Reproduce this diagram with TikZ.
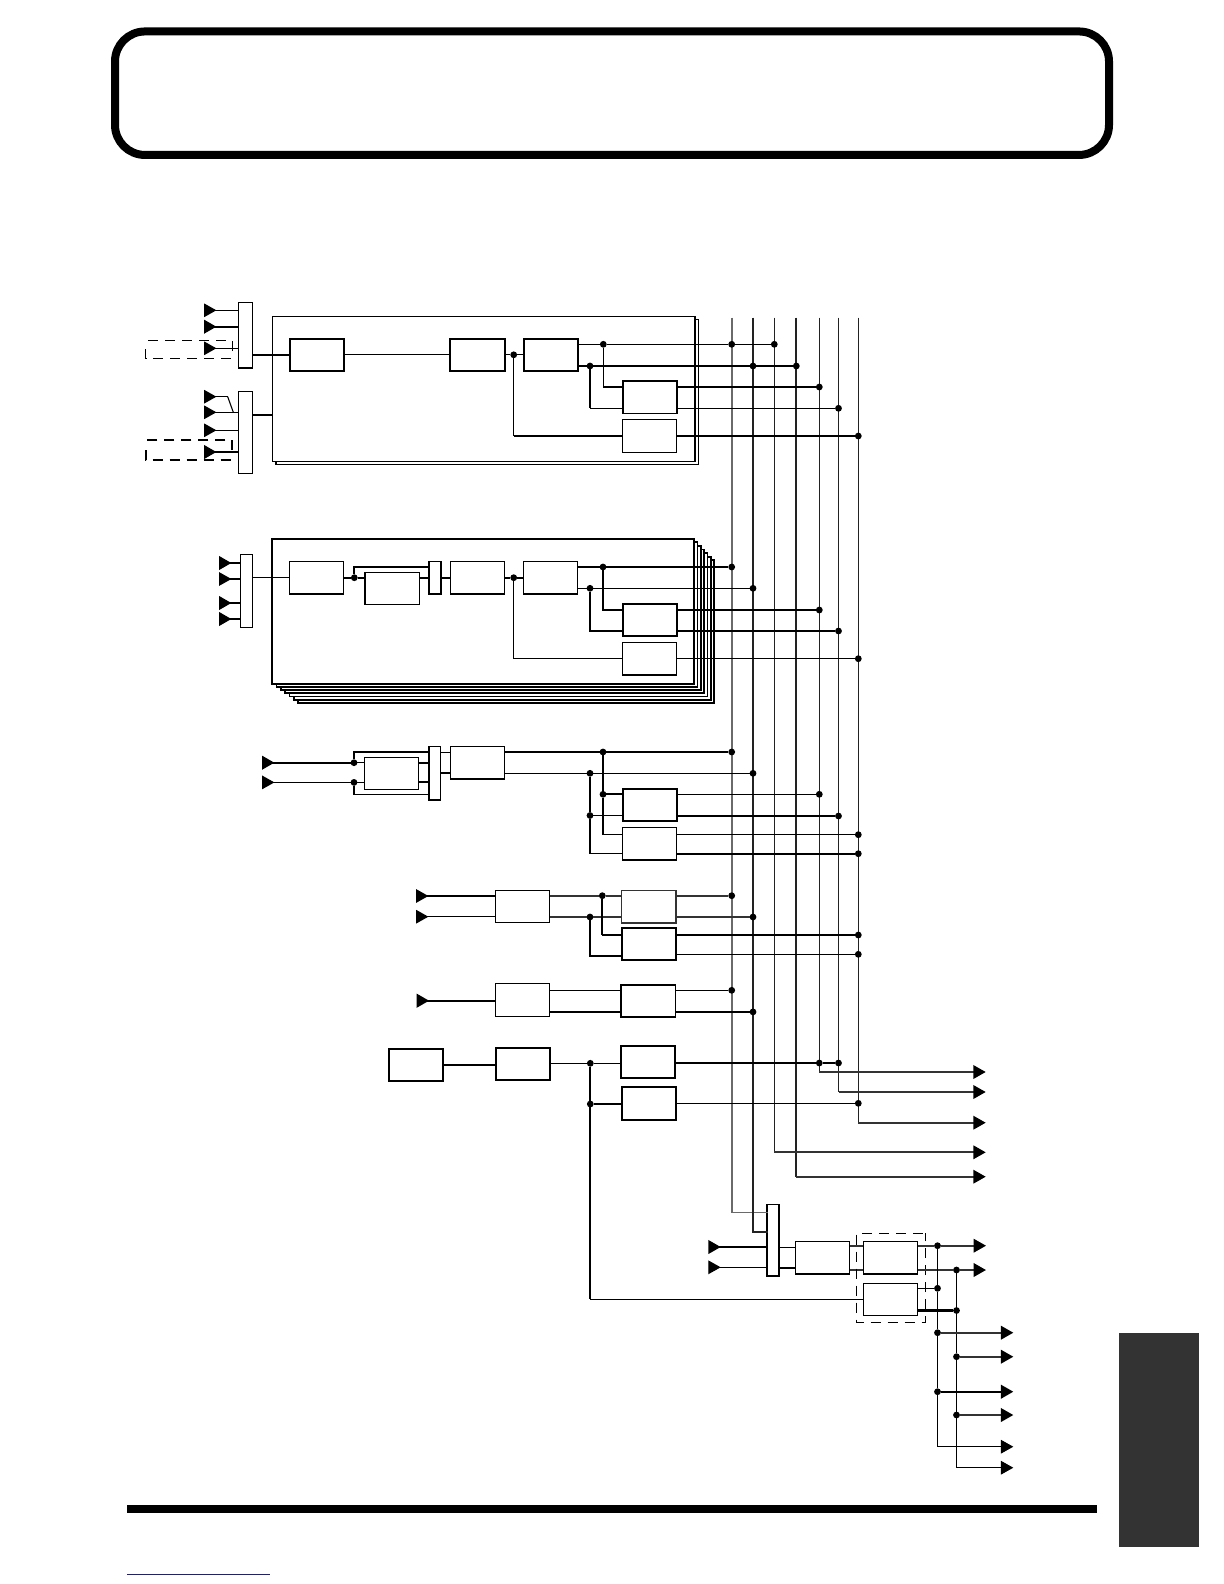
\documentclass[tikz,border=0pt]{standalone}
\usepackage{amsmath, amsfonts, amssymb}
\usepackage{color}
\usepackage{tikz}
\usetikzlibrary{calc,arrows.meta}
\definecolor{tabgrey}{HTML}{333333}
\definecolor{linkblue}{HTML}{1A1A9A}
\definecolor{busgrey}{HTML}{6A6A6A}
\definecolor{busdark}{HTML}{222222}
\tikzset{
  tn/.style={line width=.55pt},
  tk/.style={line width=1.05pt},
  tm/.style={line width=.85pt, black!80},
  blok/.style={draw, fill=white, line width=.6pt, inner sep=0, outer sep=0, minimum width=27.1pt, minimum height=16.2pt},
  blokb/.style={blok, line width=.95pt},
  mux/.style={draw, fill=white, line width=.75pt, inner sep=0, outer sep=0, minimum width=5.9pt},
  panel/.style={draw, fill=white, line width=.7pt, inner sep=0, outer sep=0},
  dot/.style={circle, fill=black, inner sep=0, outer sep=0, minimum size=3.4pt},
  inp/.style={{Triangle[reversed,length=6.2pt,width=6.8pt,color=black,fill=black]}-},
  outp/.style={-{Triangle[length=6.2pt,width=6.8pt,color=black,fill=black]}},
  dashline/.style={dash pattern=on 5pt off 3.5pt}
}
\begin{document}
\begin{tikzpicture}[x=.5pt, y=-.5pt]
\useasboundingbox (0,0) rectangle (1224,1584);

% page furniture
\node[draw, line width=4pt, rounded corners=15pt, inner sep=0, minimum width=497pt, minimum height=61.75pt] (titlebox) at (612,93.2) {};
\fill (127,1505) rectangle (1097,1513);
\fill[tabgrey] (1119,1333) rectangle (1199,1547);
\draw[linkblue, line width=.6pt] (127,1574.5) -- (270,1574.5);

% back panels
\draw[panel] (276,319.3) rectangle (698.3,464.3);
\node[panel, minimum width=211.15pt, minimum height=72.7pt] (pana) at (483.85,389) {};
\foreach \i in {6,5,...,1}
  \draw[panel, line width=.85pt] ({272.3+4.33*\i},{538.7+3.6*\i}) rectangle ({694.3+3.33*\i},{683.7+3.2*\i});
\node[panel, line width=.85pt, minimum width=211pt, minimum height=72.5pt] (panb) at (483.3,611.2) {};

% blocks
\node[blokb] (b1) at (316.7,354.8) {};
\node[blokb] (b2) at (477.5,354.8) {};
\node[blokb] (b3) at (550.7,354.8) {};
\node[blokb] (b4) at (650,397.3) {};
\node[blok] (b5) at (649.7,436) {};
\node[blok] (b6) at (316.5,577.7) {};
\node[blok] (b7) at (392,588.3) {};
\node[blok] (b8) at (477.7,577.7) {};
\node[blok] (b9) at (550.5,577.7) {};
\node[blokb] (b10) at (649.8,619.8) {};
\node[blok] (b11) at (649.3,658.7) {};
\node[blok] (b12) at (391.7,773.3) {};
\node[blok] (b13) at (477.5,762.7) {};
\node[blokb] (b14) at (649.7,805) {};
\node[blok] (b15) at (649.7,843.7) {};
\node[blok] (b16) at (522.5,906.3) {};
\node[blok, draw=black!80, line width=.8pt] (b17) at (648.7,906.5) {};
\node[blokb] (b18) at (648.7,944) {};
\node[blok] (b19) at (522.5,1000) {};
\node[blok, line width=.8pt] (b20) at (648.3,1001) {};
\node[blokb] (b21) at (416,1064.8) {};
\node[blokb] (b22) at (522.7,1063.8) {};
\node[blokb] (b23) at (648.3,1062.2) {};
\node[blokb] (b24) at (649.3,1103.5) {};
\node[blok] (b25) at (822.5,1257.8) {};
\node[blok] (b26) at (890.5,1257.8) {};
\node[blok] (b27) at (890.5,1299.3) {};

% mixers
\node[mux, minimum width=7pt, minimum height=32.8pt] (m1) at (245.3,335.2) {};
\node[mux, minimum width=7pt, minimum height=40.8pt] (m2) at (245.3,432.5) {};
\node[mux, minimum height=36.5pt] (m3) at (246.5,590.8) {};
\node[mux, minimum height=16.3pt] (m4) at (435,577.7) {};
\node[mux, minimum height=26.6pt] (m5) at (434.8,773.3) {};
\node[mux, minimum height=35.6pt] (m6) at (773,1240.3) {};

% free ends of the busses
\foreach \nm/\x in {t1/731.7, t2/753, t3/774.3, t4/796.3, t5/819.3, t6/838.5, t7/858.3}
  \coordinate (\nm) at (\x,317.7);
\coordinate (u1) at (767.7,1212.3);
\coordinate (u2) at (767.7,1232);
\coordinate (o1) at (985.7,1072);
\coordinate (o2) at (985.7,1092);
\coordinate (o3) at (985.7,1122.7);
\coordinate (o4) at (985.7,1152.3);
\coordinate (o5) at (985.7,1176.7);

% busses
\draw[busgrey, line width=.8pt] (t1) |- (u1);
\draw[busdark, line width=.9pt] (t2) |- (u2);
\draw[tn, busdark] (t3) -- (t3 |- o4);
\draw[busdark, line width=.9pt] (t4) -- (t4 |- o5);
\draw[tn, busdark] (t5) -- (t5 |- o1);
\draw[tn, busdark] (t6) -- (t6 |- o2);
\draw[tn, busdark] (t7) -- (t7 |- o3);
\draw[tm, outp] (t5 |- o1) -- (o1);
\draw[tm, outp] (t6 |- o2) -- (o2);
\draw[tm, outp] (t7 |- o3) -- (o3);
\draw[tm, outp] (t3 |- o4) -- (o4);
\draw[tm, outp] (t4 |- o5) -- (o5);

% inputs of panel A
\foreach \nm/\y/\w in {i1/310.3/tn, i2/326.7/tk, i3/348.3/tn}{
  \coordinate (\nm) at (204,\y);
  \draw[inp,\w] (\nm) -- (\nm -| m1.west);
}
\foreach \nm/\y/\w in {i5/412.3/tn, i6/430.3/tn, i7/452/tk}{
  \coordinate (\nm) at (204,\y);
  \draw[inp,\w] (\nm) -- (\nm -| m2.west);
}
\coordinate (i4) at (204,396.7);
\coordinate (k1) at (227.7,396.7);
\coordinate (k2) at (233.3,412.3);
\draw[inp, tn] (i4) -- (k1);
\draw[tn] (k1) -- (k2);
\draw[tn, dashline] (232.3,351) -- (232.3,340.7) -- (147.3,340.7);
\draw[tn, dashline] (145.7,349) -- (145.7,358.3) -- (232.3,358.3);
\draw[tk, dashline] (232.3,450) -- (232.3,440) -- (146,440);
\draw[tk, dashline] (145.7,450) -- (145.7,460) -- (232.3,460);

% panel A
\node[dot] (a1) at (513.7,354.8) {};
\node[dot] (a2) at (603.3,344.3) {};
\node[dot] (a3) at (590,366) {};
\node[dot] (a4) at (731.7,344.3) {};
\node[dot] (a5) at (774.3,344.3) {};
\node[dot] (a6) at (753,366) {};
\node[dot] (a7) at (796.3,366) {};
\node[dot] (a8) at (819.3,387) {};
\node[dot] (a9) at (838.5,408.3) {};
\node[dot] (a10) at (858.3,436) {};
\coordinate (pa) at (272.7,415);
\draw[tk] (m1.east |- b1) -- (b1);
\draw[tk] (m2.east |- pa) -- (pa);
\draw[tn] (b1) -- (b2);
\draw[tn] (b2) -- (a1) -- (b3);
\draw[tn] (b3.east |- a2) -- (a2) -- (a4) -- (a5);
\draw[tk] (b3.east |- a3) -- (a3) -- (a6) -- (a7);
\draw[tn] (a2) |- (b4.west |- a8);
\draw[tk] (a3) -- (a3 |- a9);
\draw[tn] (a3 |- a9) -- (b4.west |- a9);
\draw[tk] (b4.east |- a8) -- (a8);
\draw[tn] (b4.east |- a9) -- (a9);
\draw[tn] (a1) -- (a1 |- b5);
\draw[tk] (a1 |- b5) -- (b5);
\draw[tk] (b5) -- (a10);

% panel B
\foreach \nm/\y/\w in {i8/563/tk, i9/579/tn, i10/603/tk, i11/619/tk}{
  \coordinate (\nm) at (219,\y);
  \draw[inp,\w] (\nm) -- (\nm -| m3.west);
}
\node[dot] (c1) at (354.3,577.7) {};
\node[dot] (c2) at (513.7,577.7) {};
\node[dot] (c3) at (603,567) {};
\node[dot] (c4) at (590,588.3) {};
\node[dot] (c5) at (731.7,567) {};
\node[dot] (c6) at (753,588.3) {};
\node[dot] (c7) at (819.3,610) {};
\node[dot] (c8) at (838.5,631) {};
\node[dot] (c9) at (858.3,658.7) {};
\coordinate (c0) at (429.3,566.7);
\draw[tn] (m3.east |- b6) -- (b6);
\draw[tk] (b6) -- (c1) -- (b7.west |- c1);
\draw[tk] (c1) |- (c0);
\draw[tk] (b7.east |- c1) -- (m4.west |- c1);
\draw[tk] (m4) -- (b8);
\draw[tk] (b8) -- (c2) -- (b9);
\draw[tk] (b9.east |- c3) -- (c3) -- (c5);
\draw[tn] (b9.east |- c4) -- (c4) -- (c6);
\draw[tn] (c3) |- (b10.west |- c7);
\draw[tk] (c4) |- (b10.west |- c8);
\draw[tk] (b10.east |- c7) -- (c7);
\draw[tk] (b10.east |- c8) -- (c8);
\draw[tn] (c2) |- (b11);
\draw[tn] (b11) -- (c9);

% third strip
\coordinate (e1) at (262,762.7);
\coordinate (e2) at (262,782.4);
\node[dot] (d1) at (354,762.7) {};
\node[dot] (d2) at (354,782.4) {};
\node[dot] (d5) at (603,752) {};
\node[dot] (d6) at (590,773.3) {};
\node[dot] (d7) at (731.7,752) {};
\node[dot] (d8) at (753,773.3) {};
\node[dot] (d10) at (603,794.3) {};
\node[dot] (d11) at (590,815.5) {};
\node[dot] (d12) at (819.3,794.3) {};
\node[dot] (d13) at (838.5,816) {};
\node[dot] (d14) at (858.3,834.7) {};
\node[dot] (d15) at (858.3,853.7) {};
\coordinate (d0) at (429.3,751.7);
\coordinate (d9) at (429.3,794.3);
\coordinate (d3) at (450.3,752.7);
\coordinate (d4) at (450.3,772.7);
\draw[inp, tk] (e1) -- (d1);
\draw[inp, tn] (e2) -- (d2);
\draw[tn] (d1) -- (b12.west |- d1);
\draw[tn] (d2) -- (b12.west |- d2);
\draw[tk] (d1) |- (d0);
\draw[tn] (d2) |- (d9);
\draw[tk] (b12.east |- d1) -- (m5.west |- d1);
\draw[tk] (b12.east |- d2) -- (m5.west |- d2);
\draw[tn] (m5.east |- d3) -- (d3);
\draw[tk] (m5.east |- d4) -- (d4);
\draw[tk] (b13.east |- d5) -- (d5) -- (d7);
\draw[tn] (b13.east |- d6) -- (d6) -- (d8);
\draw[tk] (d5) -- (d10);
\draw[tk] (d10) -- (b14.west |- d10);
\draw[tn] (d10) |- (b15.west |- d14);
\draw[tk] (d6) -- (d11);
\draw[tn] (d11) -- (b14.west |- d11);
\draw[tk] (d11) -- (d11 |- d15);
\draw[tn] (d11 |- d15) -- (b15.west |- d15);
\draw[tn] (b14.east |- d12) -- (d12);
\draw[tk] (b14.east |- d13) -- (d13);
\draw[tn] (b15.east |- d14) -- (d14);
\draw[tk] (b15.east |- d15) -- (d15);

% fourth strip
\coordinate (f1) at (416,896);
\coordinate (f2) at (416,916.7);
\node[dot] (g1) at (602.3,895.7) {};
\node[dot] (g2) at (590,917) {};
\node[dot] (g3) at (731.7,895.7) {};
\node[dot] (g4) at (753,917) {};
\node[dot] (g5) at (858.3,935) {};
\node[dot] (g6) at (858.3,954.3) {};
\coordinate (g7) at (621.7,955.7);
\draw[inp, tn] (f1) -- (f1 -| b16.west);
\draw[inp, tn] (f2) -- (f2 -| b16.west);
\draw[tm] (b16.east |- g1) -- (g1) -- (b17.west |- g1);
\draw[tm] (b16.east |- g2) -- (g2) -- (b17.west |- g2);
\draw[tm] (b17.east |- g1) -- (g3);
\draw[tm] (b17.east |- g2) -- (g4);
\draw[tk] (g1) -- (g1 |- g5);
\draw[tn] (g1 |- g5) -- (b18.west |- g5);
\draw[tk] (g2) |- (g7);
\draw[tk] (b18.east |- g5) -- (g5);
\draw[tn] (b18.east |- g6) -- (g6);

% fifth strip
\coordinate (h1) at (416.7,1000.7);
\node[dot] (h2) at (731.7,990.3) {};
\node[dot] (h3) at (753,1011.9) {};
\draw[inp, tk] (h1) -- (h1 -| b19.west);
\draw[tn] (b19.east |- h2) -- (b20.west |- h2);
\draw[tk] (b19.east |- h3) -- (b20.west |- h3);
\draw[tn] (b20.east |- h2) -- (h2);
\draw[tk] (b20.east |- h3) -- (h3);

% last strip
\node[dot] (n1) at (590.3,1063.3) {};
\node[dot] (n2) at (819.3,1063) {};
\node[dot] (n3) at (838.5,1063) {};
\node[dot] (n4) at (590.3,1104) {};
\node[dot] (n5) at (858.3,1103.3) {};
\coordinate (n6) at (590.3,1299.3);
\draw[tk] (b21.east) -- (b21.east -| b22.west);
\draw[tn] (b22.east |- n1) -- (n1) -- (b23.west |- n1);
\draw[tk] (b23.east |- n2) -- (n2) -- (n3);
\draw[tk] (n1) -- (n4) -- (n6);
\draw[tn] (n4) -- (b24.west |- n4);
\draw[tn] (b24.east |- n5) -- (n5);
\draw[tn] (n6) -- (b27);

% output section
\coordinate (v1) at (708.3,1247);
\coordinate (v2) at (708.3,1267.3);
\coordinate (v3) at (795.3,1247.7);
\coordinate (v4) at (795.3,1268);
\coordinate (w1) at (986,1245.7);
\coordinate (w2) at (986,1270);
\coordinate (w3) at (1013.3,1332.7);
\coordinate (w4) at (1013.3,1356.7);
\coordinate (w5) at (1013.3,1391.7);
\coordinate (w6) at (1013.3,1415);
\coordinate (w7) at (1013.3,1446.7);
\coordinate (w8) at (1013.3,1467.7);
\node[dot] (p1) at (937.5,1245.7) {};
\node[dot] (p2) at (956.5,1270) {};
\node[dot] (p3) at (937.5,1288.3) {};
\node[dot] (p4) at (956.5,1310.5) {};
\node[dot] (p5) at (937.5,1332.7) {};
\node[dot] (p6) at (956.5,1356.7) {};
\node[dot] (p7) at (937.5,1391.7) {};
\node[dot] (p8) at (956.5,1415) {};
\draw[inp, tk] (v1) -- (v1 -| m6.west);
\draw[inp, tn] (v2) -- (v2 -| m6.west);
\draw[tn] (m6.east |- v3) -- (v3);
\draw[tk] (m6.east |- v4) -- (v4);
\draw[tm] (b25.east |- p1) -- (b26.west |- p1);
\draw[tm] (b25.east |- p2) -- (b26.west |- p2);
\draw[line width=.45pt, dashline] (922.7,1233) -- (856.3,1233) -- (856.3,1322.3) -- (925.3,1322.3) -- (925.3,1233);
\draw[tm] (b26.east |- p1) -- (p1);
\draw[tm, outp] (p1) -- (w1);
\draw[tm] (b26.east |- p2) -- (p2);
\draw[tm, outp] (p2) -- (w2);
\draw[tn] (b27.east |- p3) -- (p3);
\draw[tk] (b27.east |- p4) -- (p4);
\draw[tn] (p1) -- (p3) -- (p5) -- (p7);
\draw[tn] (p2) -- (p4) -- (p6) -- (p8);
\draw[tn] (p7) -- (p7 |- w7);
\draw[tn] (p8) -- (p8 |- w8);
\draw[tm, outp] (p5) -- (w3);
\draw[tm, outp] (p6) -- (w4);
\draw[tk, outp] (p7) -- (w5);
\draw[tm, outp] (p8) -- (w6);
\draw[tn, outp] (p7 |- w7) -- (w7);
\draw[tn, outp] (p8 |- w8) -- (w8);
\end{tikzpicture}
\end{document}
